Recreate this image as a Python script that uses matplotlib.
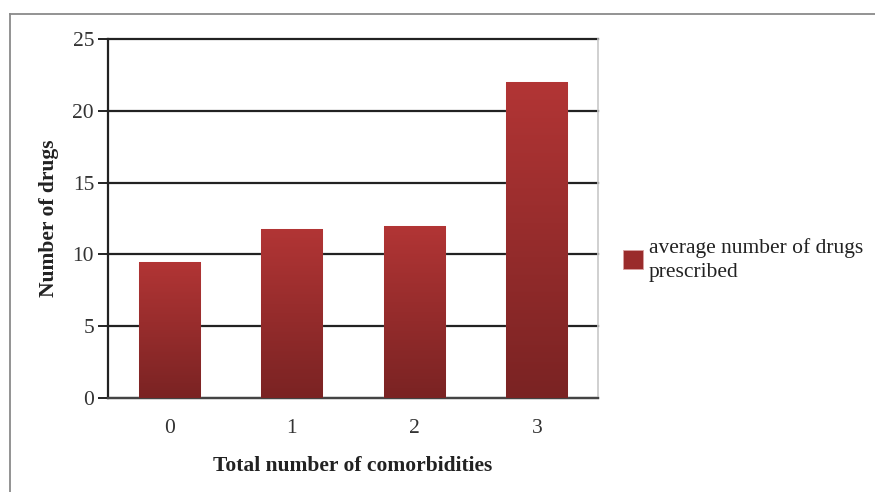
import numpy as np
import matplotlib
matplotlib.use("Agg")
import matplotlib.pyplot as plt
from matplotlib.colors import LinearSegmentedColormap
from matplotlib.patches import Patch

categories = ["0", "1", "2", "3"]
avg_drugs = [9.5, 11.8, 12.0, 22.0]
series_label = "average number of drugs\nprescribed"
y_ticks = [0, 5, 10, 15, 20, 25]

plt.rcParams["font.family"] = ["Liberation Serif", "DejaVu Serif"]
FS = 15.5

fig = plt.figure(figsize=(8.75, 4.92), dpi=100)
ax = fig.add_axes([108 / 875, 1 - 398 / 492, 490 / 875, 359 / 492])

# outer frame (top and left edges only)
fig.add_artist(plt.Line2D([9.5 / 875, 1.0], [1 - 13.5 / 492] * 2, transform=fig.transFigure,
                          color="#8a8a8a", lw=1.3))
fig.add_artist(plt.Line2D([9.5 / 875] * 2, [0.0, 1 - 13.5 / 492], transform=fig.transFigure,
                          color="#8a8a8a", lw=1.3))

x = np.arange(len(categories))
bars = ax.bar(x, avg_drugs, width=0.5, color="#a02e2e", edgecolor="#f0c8c8",
              linewidth=0.8, zorder=3)

grad = LinearSegmentedColormap.from_list("barred", ["#7a2323", "#b23535"])
g = np.linspace(0, 1, 256).reshape(-1, 1)
for b in bars:
    x0, w, h = b.get_x(), b.get_width(), b.get_height()
    im = ax.imshow(g, cmap=grad, origin="lower", aspect="auto",
                   extent=[x0, x0 + w, 0, h], zorder=3.5, interpolation="bilinear")
    im.set_clip_path(b)

ax.set_xlim(-0.5, len(categories) - 0.5)
ax.set_ylim(0, 25)
ax.set_yticks(y_ticks)
ax.set_xticks(x)
ax.set_xticklabels(categories)
ax.yaxis.grid(True, color="#222222", linewidth=1.6, zorder=1)
ax.set_axisbelow(True)
for gl in ax.get_ygridlines():
    gl.set_clip_on(False)

ax.spines["top"].set_visible(False)
ax.spines["right"].set_color("#c8c8c8")
ax.spines["right"].set_linewidth(1.2)
ax.spines["left"].set_color("#222222")
ax.spines["left"].set_linewidth(1.6)
ax.spines["bottom"].set_color("#444444")
ax.spines["bottom"].set_linewidth(1.6)

ax.tick_params(axis="y", length=7, width=1.4, color="#222222", labelsize=FS,
               pad=3, labelcolor="#333333")
ax.tick_params(axis="x", length=0, labelsize=FS, pad=15, labelcolor="#333333")

ax.set_xlabel("Total number of comorbidities", fontsize=FS, fontweight="bold",
              labelpad=13, color="#222222")
ax.set_ylabel("Number of drugs", fontsize=FS, fontweight="bold", labelpad=10,
              color="#222222")

handle = Patch(facecolor="#9a2b2b", edgecolor="#d8a0a0", linewidth=0.6)
leg = ax.legend([handle], [series_label], loc="center left",
                bbox_to_anchor=(1.02, 0.385), frameon=False, fontsize=FS,
                handlelength=0.95, handleheight=0.95, handletextpad=0.25,
                borderpad=0.2)
for t in leg.get_texts():
    t.set_color("#222222")
    t.set_linespacing(1.35)

fig.savefig("out.png", dpi=100, facecolor="white")
